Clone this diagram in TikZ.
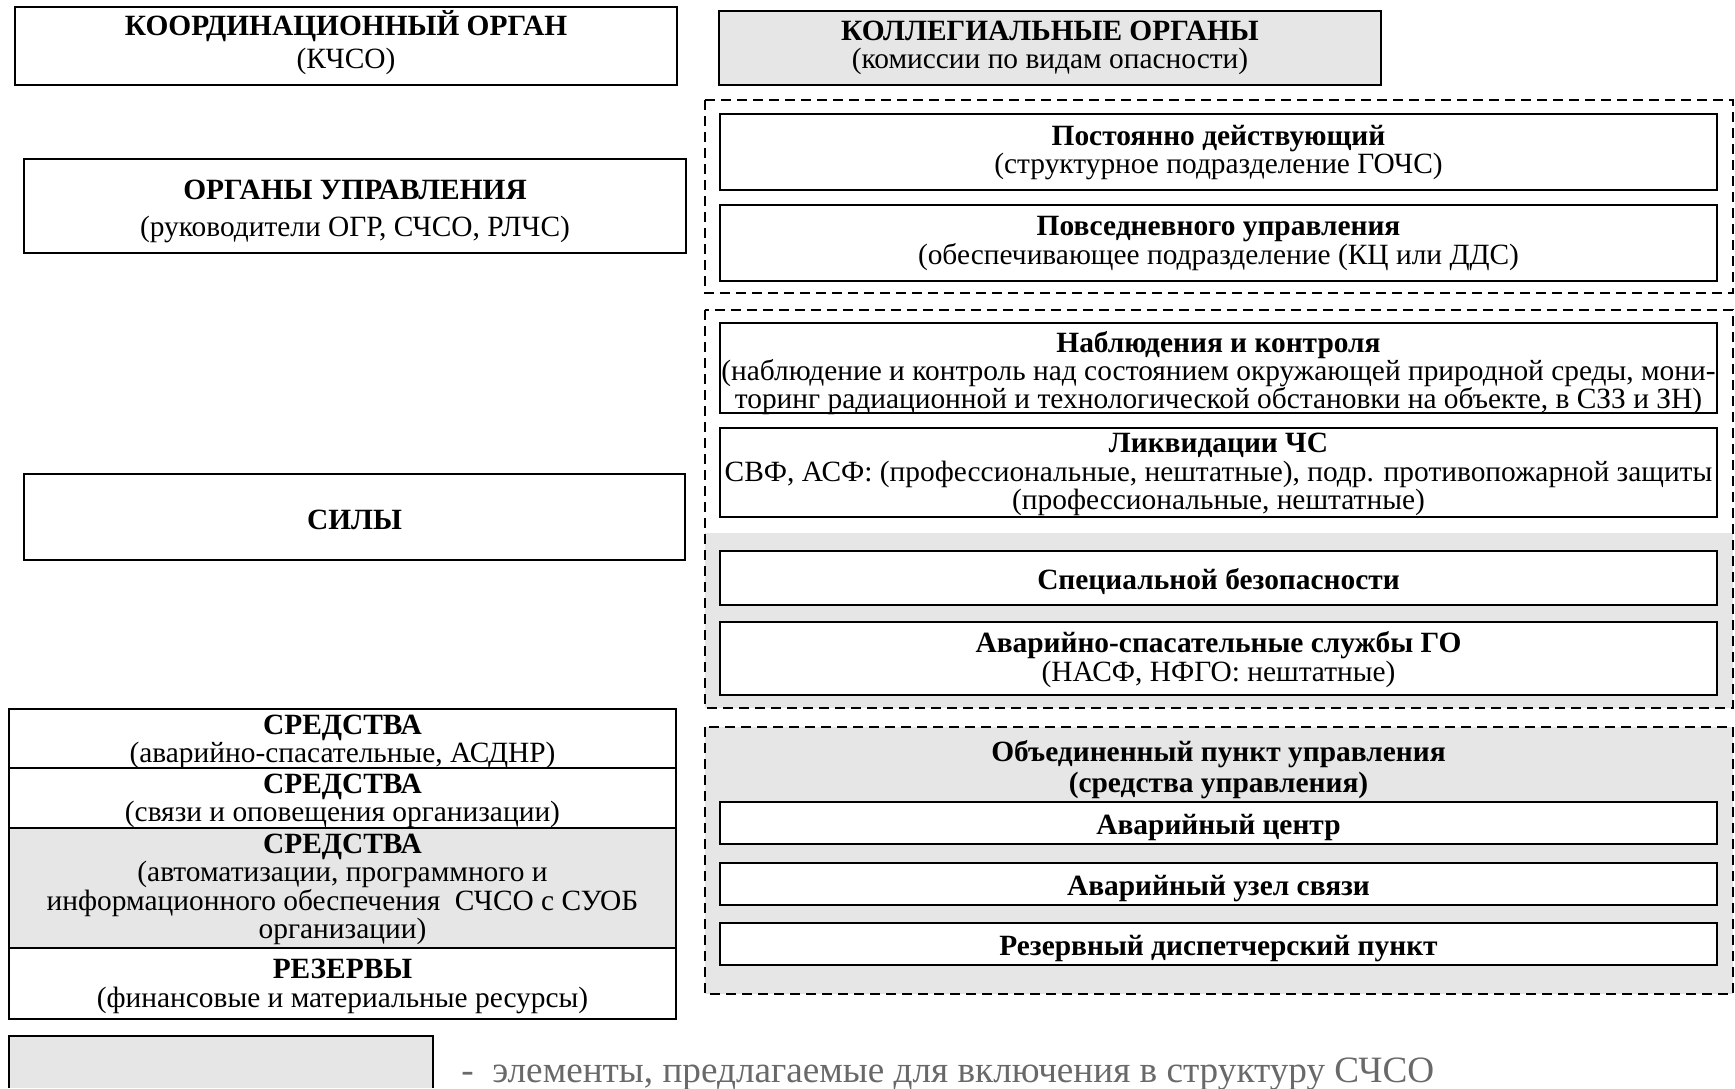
\documentclass[tikz,border=0pt]{standalone}
\usepackage{fontspec}
\setmainfont{Liberation Serif}
\definecolor{lgray}{RGB}{230,230,230}
\definecolor{legtext}{RGB}{105,105,105}
\begin{document}
\begin{tikzpicture}[x=0.5pt,y=-0.5pt,
  box/.style={draw=black, line width=1.3pt, fill=white, inner sep=0pt},
  gbox/.style={box, fill=lgray},
  wide/.style={minimum width=498.5pt},
  lbl/.style={align=center, inner sep=0pt, font=\fontsize{14.7}{14.2}\selectfont},
  grp/.style={draw=black, line width=0.9pt, dash pattern=on 5pt off 3pt}
]
\useasboundingbox (0,0) rectangle (1735,1088);

% left column
\node[box, minimum width=331pt, minimum height=39pt] (kcso) at (346,46) {};
\node[lbl, font=\fontsize{14.7}{16.4}\selectfont, yshift=1.7pt] (kcsot) at (kcso)
  {\textbf{КООРДИНАЦИОННЫЙ ОРГАН}\\(КЧСО)};
\node[box, minimum width=331pt, minimum height=47pt] (org) at (355,206) {};
\node[lbl, font=\fontsize{14.7}{18.6}\selectfont, yshift=-2.8pt] (orgt) at (org)
  {\textbf{ОРГАНЫ УПРАВЛЕНИЯ}\\(руководители ОГР, СЧСО, РЛЧС)};
\node[box, minimum width=330.5pt, minimum height=43pt] (sily) at (354.5,517) {};
\node[lbl, yshift=-1.7pt] (silyt) at (sily) {\textbf{СИЛЫ}};

\node[box, minimum width=333.5pt, minimum height=29.5pt] (s1) at (342.5,738.5) {};
\node[lbl, yshift=-1.7pt] (s1t) at (s1)
  {\textbf{СРЕДСТВА}\\(аварийно-спасательные, АСДНР)};
\node[box, minimum width=333.5pt, minimum height=30pt] (s2) at (342.5,798) {};
\node[lbl, yshift=-1.4pt] (s2t) at (s2)
  {\textbf{СРЕДСТВА}\\(связи и оповещения организации)};
\node[gbox, minimum width=333.5pt, minimum height=60pt] (s3) at (342.5,888) {};
\node[lbl, yshift=-0.6pt] (s3t) at (s3)
  {\textbf{СРЕДСТВА}\\(автоматизации, программного и\\информационного обеспечения\ \ СЧСО с СУОБ\\организации)};
\node[box, minimum width=333.5pt, minimum height=35.5pt] (s4) at (342.5,983.5) {};
\node[lbl, yshift=-1.4pt] (s4t) at (s4)
  {\textbf{РЕЗЕРВЫ}\\(финансовые и материальные ресурсы)};

% right column
\node[gbox, minimum width=331pt, minimum height=37pt] (koll) at (1050,48) {};
\node[lbl] (kollt) at (koll)
  {\textbf{КОЛЛЕГИАЛЬНЫЕ ОРГАНЫ}\\(комиссии по видам опасности)};

\draw[grp] (705,100) rectangle (1733,293);
\node[box, wide, minimum height=38pt] (post) at (1218.5,152) {};
\node[lbl, yshift=-0.3pt] (postt) at (post)
  {\textbf{Постоянно действующий}\\(структурное подразделение ГОЧС)};
\node[box, wide, minimum height=38pt] (povs) at (1218.5,243) {};
\node[lbl, yshift=-0.3pt] (povst) at (povs)
  {\textbf{Повседневного управления}\\(обеспечивающее подразделение (КЦ или ДДС)};

\fill[lgray] (705,533) rectangle (1733,708);
\draw[grp] (705,310) rectangle (1733,708);
\node[box, wide, minimum height=45pt] (nabl) at (1218.5,368) {};
\node[lbl, yshift=-2.5pt] (nablt) at (nabl)
  {\textbf{Наблюдения и контроля}\\(наблюдение и контроль над состоянием окружающей природной среды, мони-\\торинг радиационной и технологической обстановки на объекте, в СЗЗ и ЗН)};
\node[box, wide, minimum height=44.5pt] (likv) at (1218.5,472.5) {};
\node[lbl, yshift=-1.1pt] (likvt) at (likv)
  {\textbf{Ликвидации ЧС}\\СВФ, АСФ: (профессиональные, нештатные), подр. противопожарной защиты\\(профессиональные, нештатные)};
\node[box, wide, minimum height=27pt] (spec) at (1218.5,578) {};
\node[lbl, yshift=-1.7pt] (spect) at (spec) {\textbf{Специальной безопасности}};
\node[box, wide, minimum height=36.5pt] (avgo) at (1218.5,658.5) {};
\node[lbl, yshift=-0.5pt] (avgot) at (avgo)
  {\textbf{Аварийно-спасательные службы ГО}\\(НАСФ, НФГО: нештатные)};

\fill[lgray] (705,727) rectangle (1733,994);
\draw[grp] (705,727) rectangle (1733,994);
\node[lbl, font=\fontsize{14.7}{15.5}\selectfont\bfseries] (ob) at (1218.5,770)
  {Объединенный пункт управления\\(средства управления)};
\node[box, wide, minimum height=21pt] (avc) at (1218.5,823) {};
\node[lbl, yshift=-2.2pt] (avct) at (avc) {\textbf{Аварийный центр}};
\node[box, wide, minimum height=21pt] (avu) at (1218.5,884) {};
\node[lbl, yshift=-2.2pt] (avut) at (avu) {\textbf{Аварийный узел связи}};
\node[box, wide, minimum height=21pt] (rez) at (1218.5,944) {};
\node[lbl, yshift=-2.2pt] (rezt) at (rez) {\textbf{Резервный диспетчерский пункт}};

% legend
\fill[lgray] (9,1036) rectangle (433,1088);
\draw[line width=0.9pt] (9,1088) -- (9,1036) -- (433,1036) -- (433,1088);
\node[anchor=west, inner sep=0pt, text=legtext, font=\fontsize{18.6}{19}\selectfont] (leg) at (461,1074)
  {-\ \ элементы, предлагаемые для включения в структуру СЧСО};
\end{tikzpicture}
\end{document}
